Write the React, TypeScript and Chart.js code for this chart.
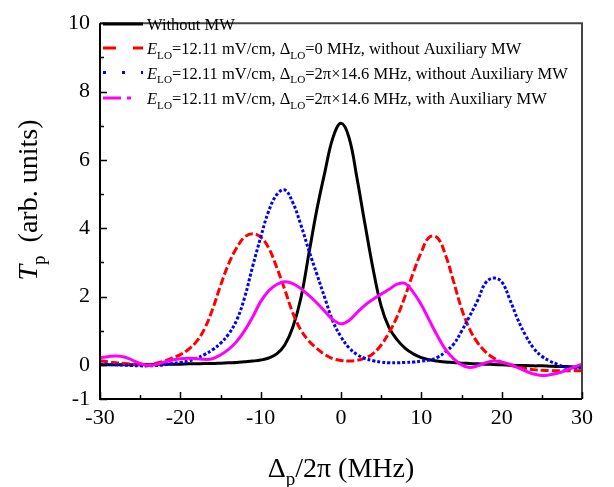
import React, { useEffect, useRef } from 'react';
import { Chart, registerables } from 'chart.js';

Chart.register(...registerables);

// ---- Data ----
const detuning = [
  -30, -29, -28, -27, -26, -25, -24, -23, -22, -21, -20, -19, -18, -17, -16, -15,
  -14, -13, -12, -11, -10, -9, -8, -7, -6, -5, -4, -3, -2, -1, 0, 1, 2, 3, 4, 5,
  6, 7, 8, 9, 10, 11, 12, 13, 14, 15, 16, 17, 18, 19, 20, 21, 22, 23, 24, 25, 26,
  27, 28, 29, 30,
];

const withoutMW = [
  0.0, 0.0, 0.0, 0.0, 0.0, 0.01, 0.01, 0.01, 0.02, 0.02, 0.02, 0.03, 0.03, 0.04, 0.04, 0.05,
  0.06, 0.07, 0.09, 0.11, 0.14, 0.2, 0.32, 0.58, 1.1, 1.95, 3.25, 4.55, 5.65, 6.65, 7.07, 6.65, 5.45, 4.1, 2.8, 1.72,
  1.08, 0.73, 0.48, 0.32, 0.21, 0.15, 0.11, 0.08, 0.07, 0.05, 0.04, 0.03, 0.02, 0.01, 0.0, -0.01, -0.02, -0.02, -0.03, -0.03, -0.04,
  -0.05, -0.05, -0.06, -0.06,
];

const eloZeroNoAux = [
  0.12, 0.09, 0.06, 0.04, 0.02, 0.0, 0.0, 0.05, 0.11, 0.2, 0.3, 0.45, 0.68, 1.05, 1.62, 2.32,
  2.95, 3.42, 3.74, 3.84, 3.74, 3.42, 2.85, 2.2, 1.52, 1.02, 0.7, 0.48, 0.3, 0.18, 0.13, 0.11, 0.13, 0.2, 0.33, 0.58,
  0.95, 1.42, 2.02, 2.7, 3.3, 3.74, 3.72, 3.22, 2.45, 1.65, 1.05, 0.65, 0.38, 0.2, 0.08, 0.0, -0.07, -0.11, -0.14, -0.16, -0.17,
  -0.17, -0.17, -0.17, -0.17,
];

const eloDetunedNoAux = [
  0.02, 0.01, 0.0, -0.01, -0.02, -0.03, -0.03, -0.02, 0.0, 0.04, 0.07, 0.11, 0.19, 0.3, 0.44, 0.63,
  0.9, 1.3, 1.97, 2.88, 3.73, 4.5, 4.98, 5.12, 4.75, 4.1, 3.35, 2.65, 1.95, 1.27, 0.82, 0.5, 0.3, 0.19, 0.12, 0.08,
  0.06, 0.06, 0.07, 0.08, 0.11, 0.14, 0.22, 0.38, 0.6, 0.98, 1.42, 1.88, 2.4, 2.54, 2.43, 1.92, 1.33, 0.85, 0.48, 0.25, 0.11,
  0.01, -0.07, -0.09, -0.08,
];

const eloDetunedAux = [
  0.21, 0.24, 0.26, 0.23, 0.14, 0.04, -0.02, 0.01, 0.08, 0.14, 0.18, 0.19, 0.18, 0.16, 0.18, 0.29,
  0.45, 0.68, 1.0, 1.4, 1.85, 2.17, 2.35, 2.43, 2.38, 2.23, 2.03, 1.81, 1.56, 1.32, 1.2, 1.3, 1.53, 1.75, 1.92, 2.07,
  2.21, 2.36, 2.38, 2.12, 1.76, 1.3, 0.85, 0.45, 0.18, 0.0, -0.08, -0.03, 0.06, 0.11, 0.08, 0.02, -0.08, -0.18, -0.27, -0.31, -0.29,
  -0.24, -0.16, -0.07, 0.02,
];

const xMajorTicks = [-30, -20, -10, 0, 10, 20, 30];
const xMinorTicks = [-25, -15, -5, 5, 15, 25];
const yMajorTicks = [-1, 0, 2, 4, 6, 8, 10];
const yMinorTicks = [1, 3, 5, 7, 9];

type Part = { t: string; italic?: boolean; sub?: boolean; dx?: number };

const legendLabels: Part[][] = [
  [{ t: 'Without MW' }],
  [
    { t: 'E', italic: true }, { t: 'LO', sub: true }, { t: '=12.11 mV/cm, \u0394' },
    { t: 'LO', sub: true }, { t: '=0 MHz, without Auxiliary MW' },
  ],
  [
    { t: 'E', italic: true }, { t: 'LO', sub: true }, { t: '=12.11 mV/cm, \u0394' },
    { t: 'LO', sub: true }, { t: '=2\u03c0\u00d714.6 MHz, without Auxiliary MW' },
  ],
  [
    { t: 'E', italic: true }, { t: 'LO', sub: true }, { t: '=12.11 mV/cm, \u0394' },
    { t: 'LO', sub: true }, { t: '=2\u03c0\u00d714.6 MHz, with Auxiliary MW' },
  ],
];

const yTitle: Part[] = [{ t: 'T', italic: true }, { t: 'p', sub: true, dx: 6 }, { t: ' (arb. units)' }];
const xTitle: Part[] = [{ t: '\u0394' }, { t: 'p', sub: true }, { t: '/2\u03c0 (MHz)' }];

const seriesColors = ['#000000', '#ff0000', '#0000ff', '#ff00ff'];
const plotDashes: number[][] = [[], [8, 3], [3, 2], []];
const legendDashes: number[][] = [[], [13, 17], [3, 16], [18, 6, 4, 100]];

const FONT = '"Liberation Serif", "Times New Roman", serif';

function partFont(p: Part, size: number) {
  const s = p.sub ? size * 0.68 : size;
  return `${p.italic ? 'italic ' : ''}${s}px ${FONT}`;
}

function measureRich(ctx: CanvasRenderingContext2D, parts: Part[], size: number) {
  let w = 0;
  for (const p of parts) {
    ctx.font = partFont(p, size);
    w += ctx.measureText(p.t).width + (p.dx || 0);
  }
  return w;
}

function drawRich(ctx: CanvasRenderingContext2D, parts: Part[], x: number, y: number, size: number) {
  let cx = x;
  ctx.textBaseline = 'alphabetic';
  ctx.textAlign = 'left';
  for (const p of parts) {
    ctx.font = partFont(p, size);
    ctx.fillText(p.t, cx, p.sub ? y + size * 0.28 : y);
    cx += ctx.measureText(p.t).width + (p.dx || 0);
  }
}

const decorPlugin = {
  id: 'decor',
  afterDraw(chart: any) {
    const ctx: CanvasRenderingContext2D = chart.ctx;
    const { left, right, top, bottom } = chart.chartArea;
    const xs = chart.scales.x;
    const ys = chart.scales.y;
    ctx.save();
    // frame
    ctx.lineCap = 'butt';
    ctx.setLineDash([]);
    ctx.strokeStyle = '#444444';
    ctx.lineWidth = 2;
    ctx.beginPath();
    ctx.moveTo(left, top);
    ctx.lineTo(right, top);
    ctx.lineTo(right, bottom);
    ctx.stroke();
    ctx.strokeStyle = '#000000';
    ctx.beginPath();
    ctx.moveTo(left, top);
    ctx.lineTo(left, bottom);
    ctx.lineTo(right, bottom);
    ctx.stroke();
    // inward ticks
    ctx.lineWidth = 1.5;
    ctx.beginPath();
    for (const v of xMajorTicks) {
      const px = Math.round(xs.getPixelForValue(v)) + 0.5;
      ctx.moveTo(px, bottom);
      ctx.lineTo(px, bottom - 7);
    }
    for (const v of xMinorTicks) {
      const px = Math.round(xs.getPixelForValue(v)) + 0.5;
      ctx.moveTo(px, bottom);
      ctx.lineTo(px, bottom - 4);
    }
    for (const v of yMajorTicks) {
      const py = Math.round(ys.getPixelForValue(v)) + 0.5;
      ctx.moveTo(left, py);
      ctx.lineTo(left + 7, py);
    }
    for (const v of yMinorTicks) {
      const py = Math.round(ys.getPixelForValue(v)) + 0.5;
      ctx.moveTo(left, py);
      ctx.lineTo(left + 4, py);
    }
    ctx.stroke();

    // legend
    const rowY = [24, 48, 72.5, 98];
    ctx.fillStyle = '#000000';
    legendLabels.forEach((parts, i) => {
      const y = rowY[i];
      ctx.save();
      ctx.strokeStyle = seriesColors[i];
      ctx.lineWidth = 3;
      ctx.setLineDash(legendDashes[i]);
      ctx.beginPath();
      ctx.moveTo(103, y);
      ctx.lineTo(143, y);
      ctx.stroke();
      ctx.restore();
      drawRich(ctx, parts, 147, y + 6, 16.5);
    });

    // axis titles
    const xw = measureRich(ctx, xTitle, 28);
    drawRich(ctx, xTitle, (left + right) / 2 - xw / 2, 477, 28);

    ctx.save();
    ctx.translate(37, 200);
    ctx.rotate(-Math.PI / 2);
    const yw = measureRich(ctx, yTitle, 28);
    drawRich(ctx, yTitle, -yw / 2, 0, 28);
    ctx.restore();

    ctx.restore();
  },
};

const seriesList = [withoutMW, eloZeroNoAux, eloDetunedNoAux, eloDetunedAux];
const seriesNames = [
  'Without MW',
  'E_LO=12.11 mV/cm, Δ_LO=0 MHz, without Auxiliary MW',
  'E_LO=12.11 mV/cm, Δ_LO=2π×14.6 MHz, without Auxiliary MW',
  'E_LO=12.11 mV/cm, Δ_LO=2π×14.6 MHz, with Auxiliary MW',
];

export default function App() {
  const canvasRef = useRef<HTMLCanvasElement | null>(null);

  useEffect(() => {
    const canvas = canvasRef.current;
    if (!canvas) return;
    const tickFont = { family: FONT, size: 22 };
    const chart = new Chart(canvas, {
      type: 'line',
      data: {
        datasets: seriesList.map((s, i) => ({
          label: seriesNames[i],
          data: detuning.map((x, j) => ({ x, y: s[j] })),
          borderColor: seriesColors[i],
          backgroundColor: seriesColors[i],
          borderWidth: 3,
          borderDash: plotDashes[i],
          pointRadius: 0,
          fill: false,
          tension: 0.4,
          order: 3 - i,
        })),
      },
      options: {
        animation: false,
        responsive: false,
        maintainAspectRatio: false,
        layout: { padding: { left: 0, right: 32, top: 12, bottom: 0 } },
        plugins: {
          legend: { display: false },
          tooltip: { enabled: false },
        },
        scales: {
          x: {
            type: 'linear',
            min: -30,
            max: 30,
            afterBuildTicks: (s: any) => {
              s.ticks = xMajorTicks.map((v) => ({ value: v }));
            },
            afterFit: (s: any) => {
              s.height = 88;
            },
            grid: { display: false, drawTicks: false },
            border: { display: false },
            ticks: {
              font: tickFont,
              color: '#000000',
              padding: 6,
              maxRotation: 0,
              autoSkip: false,
            },
          },
          y: {
            type: 'linear',
            min: -1,
            max: 10,
            afterBuildTicks: (s: any) => {
              s.ticks = yMajorTicks.map((v) => ({ value: v }));
            },
            afterFit: (s: any) => {
              s.width = 100;
            },
            grid: { display: false, drawTicks: false },
            border: { display: false },
            ticks: {
              font: tickFont,
              color: '#000000',
              padding: 10,
              autoSkip: false,
            },
          },
        },
      },
      plugins: [decorPlugin],
    } as any);
    return () => chart.destroy();
  }, []);

  return (
    <div style={{ position: 'absolute', left: 0, top: 0, width: 614, height: 487, background: '#ffffff' }}>
      <canvas ref={canvasRef} width={614} height={487} style={{ display: 'block', width: 614, height: 487 }} />
    </div>
  );
}
